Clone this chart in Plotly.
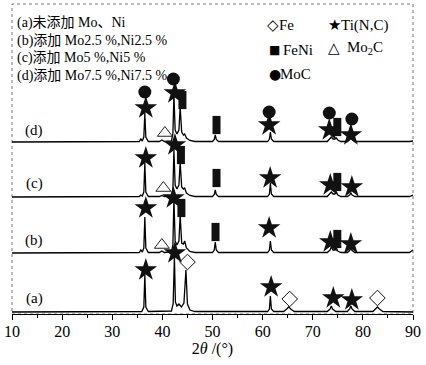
import plotly.graph_objects as go

# ---------------- data ----------------
# two-theta vertices and intensities (a.u., above each pattern's own baseline)
x_a = [10, 35.9, 36.3, 36.5, 36.7, 37.2, 41.8, 42.15, 42.4, 42.6, 42.9, 43.3, 43.8, 44.3, 44.7,
       45.0, 45.5, 46.5, 61.0, 61.35, 61.55, 61.75, 62.2, 64.2, 64.8, 65.2, 65.6, 66.3, 72.9,
       73.45, 73.7, 73.95, 74.6, 76.9, 77.35, 77.6, 77.85, 78.4, 82.0, 82.5, 82.9, 83.3, 84.0, 90]
y_a = [0, 0.5, 5, 37, 5, 0.5, 1, 8, 56, 10, 6, 8, 5, 9, 42,
       8, 2, 0.5, 0.5, 3, 16, 3, 0.5, 0.5, 3, 5, 3, 0.5, 0.5,
       3, 6, 3, 0.5, 0.5, 3, 6, 3, 0.5, 0.5, 3, 5, 3, 0.5, 0]

x_b = [10, 35.4, 35.7, 36.0, 36.3, 36.5, 36.7, 37.2, 39.4, 39.9, 40.4, 41.8, 42.1, 42.3, 42.55,
       42.9, 43.3, 43.55, 43.85, 44.2, 44.45, 44.8, 45.5, 46.5, 50.0, 50.35, 50.55, 50.75, 51.2,
       61.0, 61.35, 61.55, 61.75, 62.2, 72.9, 73.45, 73.7, 74.05, 74.4, 74.7, 75.0, 75.6, 76.9,
       77.35, 77.6, 77.85, 78.4, 89.3, 90]
y_b = [0, 0.5, 3, 1, 5, 36, 5, 0.5, 0.5, 2, 0.5, 1, 8, 55, 12,
       8, 12, 38, 10, 9, 12, 5, 1.5, 0.5, 0.5, 3, 11, 3, 0.5,
       0.5, 3, 12, 3, 0.5, 0.5, 3, 6, 3, 3, 5, 2, 0.5, 0.5,
       2.5, 5, 2.5, 0.5, 0.5, 3]

x_c = x_b
y_c = [0, 0.5, 2, 1, 5, 34, 5, 0.5, 0.5, 1.5, 0.5, 1, 8, 47, 12,
       8, 12, 35, 10, 8, 9, 4, 1.5, 0.5, 0.5, 2.5, 7, 2.5, 0.5,
       0.5, 3, 14, 3, 0.5, 0.5, 3, 5, 3, 3, 5, 2, 0.5, 0.5,
       2, 4, 2, 0.5, 0.5, 2]

x_d = x_b
y_d = [0, 0.5, 3, 1, 5, 29, 5, 0.5, 0.5, 2, 0.5, 1, 8, 48, 12,
       8, 12, 35, 10, 7, 8, 4, 1.5, 0.5, 0.5, 2.5, 7, 2.5, 0.5,
       0.5, 3, 10, 3, 0.5, 0.5, 3, 5, 3, 3, 4, 2, 0.5, 0.5,
       2.5, 5, 2.5, 0.5, 0.5, 1]

pattern_labels = ["(a)", "(b)", "(c)", "(d)"]
pattern_offsets = [2, 61, 117, 172]
label_x = [14.4, 14.4, 14.4, 14.4]
label_y = [16, 74, 131, 184]

# phase markers (two-theta, stacked intensity)
tic_x = [36.7, 42.5, 61.7, 74.1, 77.8, 36.7, 42.2, 61.3, 73.5, 77.6,
         36.7, 42.5, 61.5, 73.5, 77.8, 36.7, 42.5, 61.3, 73.3, 77.6]
tic_y = [44, 61, 27, 16, 14, 106, 116, 86, 72, 70,
         156, 169, 136, 129, 127, 206, 221, 189, 184, 179]
fe_x = [45.0, 65.4, 82.9]
fe_y = [52, 15, 16]
feni_x = [43.8, 50.6, 74.9, 43.7, 50.8, 74.9, 44.0, 50.8, 74.9]
feni_y = [106, 82, 75, 159, 136, 132, 214, 189, 187]
mo2c_x = [39.9, 40.2, 40.5]
mo2c_y = [69, 126, 181]
moc_x = [36.5, 42.2, 61.3, 73.3, 77.8]
moc_y = [222, 235, 202, 201, 195]

x_ticks = [10, 20, 30, 40, 50, 60, 70, 80, 90]

legend_left = ["(a)未添加 Mo、Ni", "(b)添加 Mo2.5 %,Ni2.5 %",
               "(c)添加 Mo5 %,Ni5 %", "(d)添加 Mo7.5 %,Ni7.5 %"]
legend_glyphs = ["◇", "★", "■", "△", "●"]
legend_names = ["Fe", "Ti(N,C)", "FeNi", "Mo<sub>2</sub>C", "MoC"]

# ---------------- figure ----------------
SERIF = "Liberation Serif, Times New Roman, Noto Sans CJK SC, serif"
fig = go.Figure()

for xs, ys, off in zip([x_a, x_b, x_c, x_d], [y_a, y_b, y_c, y_d], pattern_offsets):
    fig.add_trace(go.Scatter(x=xs, y=[v + off for v in ys], mode="lines",
                             line=dict(color="black", width=1.3), hoverinfo="skip"))

fig.add_trace(go.Scatter(x=tic_x, y=tic_y, mode="markers",
                         marker=dict(symbol="star", size=17, color="#111", line=dict(width=0))))
fig.add_trace(go.Scatter(x=fe_x, y=fe_y, mode="markers",
                         marker=dict(symbol="diamond-open", size=12, color="#111", line=dict(width=1))))
fig.add_trace(go.Scatter(x=feni_x, y=feni_y, mode="markers",
                         marker=dict(symbol="line-ns", size=13, line=dict(width=8, color="#111"))))
fig.add_trace(go.Scatter(x=mo2c_x, y=mo2c_y, mode="markers",
                         marker=dict(symbol="triangle-up-open", size=13, color="#222", line=dict(width=1))))
fig.add_trace(go.Scatter(x=moc_x, y=moc_y, mode="markers",
                         marker=dict(symbol="circle", size=13, color="#111", line=dict(width=0))))

ann = []
for t, x, y in zip(pattern_labels, label_x, label_y):
    ann.append(dict(x=x, y=y, text=t, showarrow=False, xanchor="center", yanchor="middle",
                    font=dict(family=SERIF, size=15, color="black")))
for i, t in enumerate(legend_left):
    ann.append(dict(x=10.63, y=[291, 273, 256, 238][i], text=t, showarrow=False,
                    xanchor="left", yanchor="middle",
                    font=dict(family=SERIF, size=14, color="black")))
glyph_pos = [(60.5, 289), (72.7, 289), (60.8, 264), (72.7, 266), (60.8, 240)]
name_pos = [(62.9, 289), (75.3, 289), (63.6, 264), (76.4, 266), (63.0, 240)]
glyph_sizes = [15, 15, 12, 15, 14]
for g, n, gs, (gx, gy), (nx, ny) in zip(legend_glyphs, legend_names, glyph_sizes, glyph_pos, name_pos):
    ann.append(dict(x=gx, y=gy, text=g, showarrow=False, xanchor="left", yanchor="middle",
                    font=dict(family="DejaVu Sans", size=gs, color="black")))
    ann.append(dict(x=nx, y=ny, text=n, showarrow=False, xanchor="left", yanchor="middle",
                    font=dict(family=SERIF, size=15, color="black")))

fig.update_layout(
    width=426, height=365,
    margin=dict(l=9.5, r=13, t=4, b=51),
    paper_bgcolor="white", plot_bgcolor="white",
    showlegend=False,
    annotations=ann,
    shapes=[dict(type="rect", xref="paper", yref="paper", x0=0, y0=0, x1=1, y1=1,
                 line=dict(color="#777", width=1, dash="dot"), layer="below")],
    xaxis=dict(range=[10, 90], tickvals=x_ticks, ticks="outside", ticklen=5, tickwidth=1,
               tickcolor="black", showline=True, linecolor="black", linewidth=1.2,
               showgrid=False, zeroline=False, ticklabelstandoff=-2,
               minor=dict(dtick=5, ticks="outside", ticklen=3, tickcolor="black"),
               tickfont=dict(family=SERIF, size=16, color="black"),
               title=dict(text="2<i>θ</i> /(°)", font=dict(family=SERIF, size=16, color="black"),
                          standoff=0)),
    yaxis=dict(range=[0, 310], showticklabels=False, ticks="", showgrid=False,
               zeroline=False, showline=False),
)

fig.write_html("out.html", config={"displayModeBar": False},
               post_script="document.body.style.margin='0';")
